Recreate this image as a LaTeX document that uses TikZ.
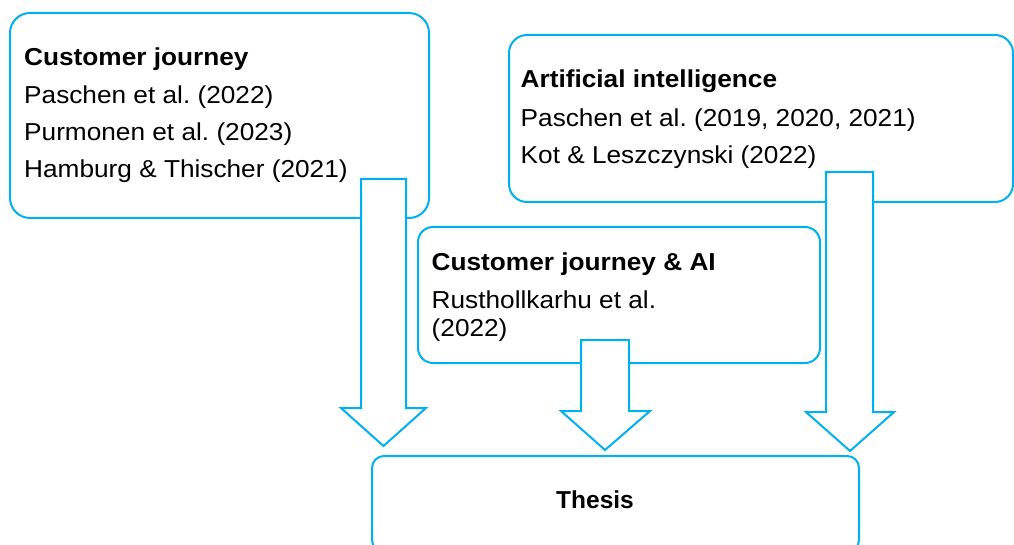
\documentclass[tikz,border=0pt]{standalone}
\usepackage{fontspec}
\setmainfont{Liberation Sans}
\usepackage{graphicx}
\frenchspacing
\definecolor{frameblue}{HTML}{00B0F0}
\newcommand{\widetext}[1]{\scalebox{1.07}[1]{#1}}
\tikzset{
  frame/.style={draw=frameblue, line width=2pt, fill=white, inner sep=0pt, outer sep=0pt},
  cardbox/.style={frame, rectangle, rounded corners=#1},
  blockarrow/.style={draw=frameblue, line width=2pt, fill=white, line join=miter},
  reftext/.style={anchor=base west, inner sep=0pt, font=\fontsize{24.5}{28}\selectfont},
  headtext/.style={reftext, font=\fontsize{24.5}{28}\selectfont\bfseries},
}
\begin{document}
\begin{tikzpicture}[x=1pt, y=-1pt]
\useasboundingbox (0,0) rectangle (1014,545);

% boxes
\node (cj)  [cardbox=20pt, minimum width=419pt, minimum height=205pt] at (219.5,115.5) {};
\node (ai)  [cardbox=18pt, minimum width=504pt, minimum height=167pt] at (761,118.5) {};
\node (cjai)[cardbox=15pt, minimum width=402pt, minimum height=136pt] at (619,295) {};
\node (th)  [cardbox=12pt, minimum width=487pt, minimum height=96pt] at (615.5,504) {};

% block arrows towards the thesis
\draw[blockarrow] (361,179) -- (406,179) -- (406,408) -- (426,408) -- (383.5,446)
  -- (341,408) -- (361,408) -- cycle;
\draw[blockarrow] (581,340) -- (629,340) -- (629,411) -- (650,411) -- (605,450)
  -- (561,411) -- (581,411) -- cycle;
\draw[blockarrow] (826,172) -- (873,172) -- (873,412) -- (894,412) -- (850,451)
  -- (806,412) -- (826,412) -- cycle;

% customer journey
\node (cj0) [headtext] at (24,66)  {\widetext{Customer journey}};
\node (cj1) [reftext]  at (24,104) {\widetext{Paschen et al. (2022)}};
\node (cj2) [reftext]  at (24,141) {\widetext{Purmonen et al. (2023)}};
\node (cj3) [reftext]  at (24,178) {\widetext{Hamburg \& Thischer (2021)}};

% artificial intelligence
\node (ai0) [headtext] at (520.5,88)  {\widetext{Artificial intelligence}};
\node (ai1) [reftext]  at (520.5,127) {\widetext{Paschen et al. (2019, 2020, 2021)}};
\node (ai2) [reftext]  at (520.5,164) {\widetext{Kot \& Leszczynski (2022)}};

% customer journey & AI
\node (cx0) [headtext] at (431.5,270) {\widetext{Customer journey \& AI}};
\node (cx1) [reftext]  at (431.5,308) {\widetext{Rusthollkarhu et al.}};
\node (cx2) [reftext]  at (431.5,336) {\widetext{(2022)}};

% thesis
\node (th0) [headtext, anchor=base] at (595,508) {Thesis};
\end{tikzpicture}
\end{document}
